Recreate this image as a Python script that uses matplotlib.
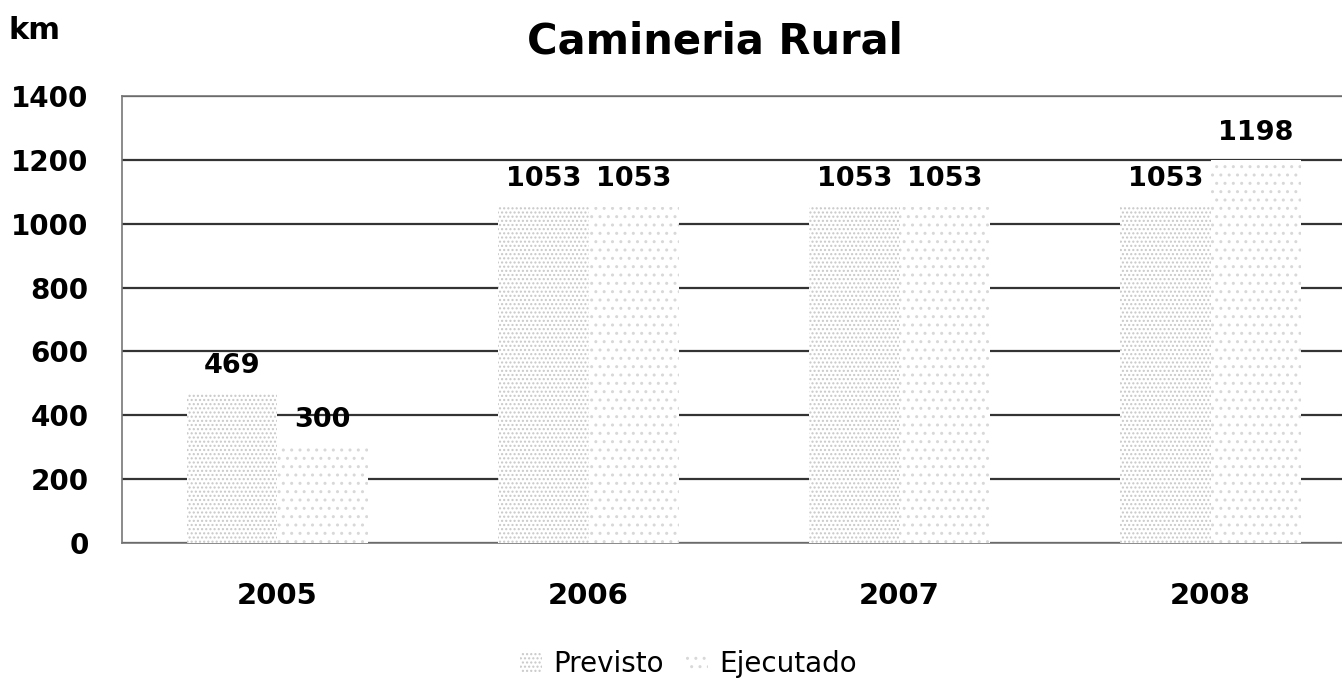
import numpy as np
import matplotlib.pyplot as plt

years = ["2005", "2006", "2007", "2008"]
previsto = [469, 1053, 1053, 1053]
ejecutado = [300, 1053, 1053, 1198]
yticks = [0, 200, 400, 600, 800, 1000, 1200, 1400]

plt.rcParams['font.family'] = ['DejaVu Sans']
plt.rcParams['hatch.linewidth'] = 1.0

fig = plt.figure(figsize=(13.42, 6.88), dpi=100)
ax = fig.add_axes([0.0909, 0.2108, 0.927, 0.6497])

x = np.arange(len(years))
w = 0.29
b1 = ax.bar(x - w / 2, previsto, w, color='white', edgecolor='#c8c8c8',
            linewidth=0, hatch='....', zorder=3, label='Previsto')
b2 = ax.bar(x + w / 2, ejecutado, w, color='white', edgecolor='#d8d8d8',
            linewidth=0, hatch='..', zorder=3, label='Ejecutado')

# value labels above the bars
for bars, vals in [(b1, previsto), (b2, ejecutado)]:
    for r, v in zip(bars, vals):
        ax.text(r.get_x() + r.get_width() / 2, v + 45, str(v), ha='center',
                va='bottom', fontsize=19.5, fontweight='bold', zorder=5)

ax.set_xlim(-0.5, len(years) - 0.5)
ax.set_ylim(0, 1400)
ax.set_yticks(yticks)
ax.set_xticks(x)
ax.set_xticklabels(years)
ax.yaxis.grid(True, color='#333333', linewidth=1.6, zorder=0)
ax.set_axisbelow(True)
ax.tick_params(axis='y', length=0, pad=24, labelsize=20)
ax.tick_params(axis='x', length=0, pad=28, labelsize=21)
for lab in ax.get_xticklabels() + ax.get_yticklabels():
    lab.set_fontweight('bold')
for s in ax.spines.values():
    s.set_color('#777777')
    s.set_linewidth(1.2)

fig.text(0.533, 0.94, "Camineria Rural", ha='center', va='center',
         fontsize=30, fontweight='bold')
fig.text(0.006, 0.955, "km", ha='left', va='center', fontsize=22,
         fontweight='bold')

fig.legend(handles=[b1, b2], loc='center', bbox_to_anchor=(0.513, 0.035),
           ncol=2, frameon=False, fontsize=20, handlelength=0.8,
           handletextpad=0.4, columnspacing=0.8)

fig.savefig("out.png", dpi=100)
